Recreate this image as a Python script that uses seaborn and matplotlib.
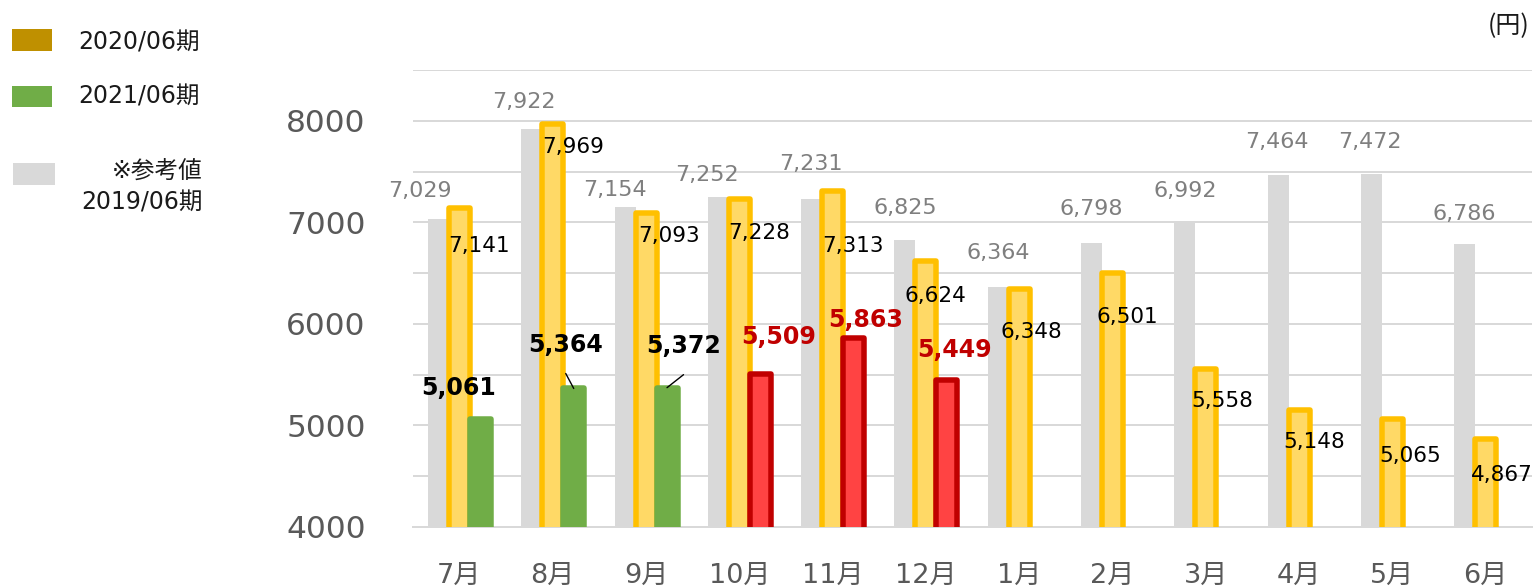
import numpy as np
import pandas as pd
import matplotlib
matplotlib.use("Agg")
import matplotlib.pyplot as plt
import seaborn as sns
from matplotlib.patches import Rectangle

# ---------------- data ----------------
months = ["7月", "8月", "9月", "10月", "11月", "12月", "1月", "2月", "3月", "4月", "5月", "6月"]
ref_2019 = [7029, 7922, 7154, 7252, 7231, 6825, 6364, 6798, 6992, 7464, 7472, 6786]
fy_2020 = [7141, 7969, 7093, 7228, 7313, 6624, 6348, 6501, 5558, 5148, 5065, 4867]
fy_2021_green = [5061, 5364, 5372]          # 7月-9月
fy_2021_red = [5509, 5863, 5449]            # 10月-12月
y_ticks = [4000, 4500, 5000, 5500, 6000, 6500, 7000, 7500, 8000, 8500]
y_tick_labels = ["4000", "", "5000", "", "6000", "", "7000", "", "8000", ""]
legend_labels = ["2020/06期", "2021/06期", "※参考値", "2019/06期"]
unit_label = "(円)"

# ---------------- styling / positions ----------------
W, H, DPI = 1537, 587, 100
PX = 72.0 / DPI  # points per pixel
C_GRAY = "#D9D9D9"
C_YEL_FILL, C_YEL_EDGE = "#FFD966", "#FFC000"
C_GREEN = "#70AD47"
C_RED_FILL, C_RED_EDGE = "#FF4343", "#C00000"
C_TICK = "#595959"
C_GRAYTXT = "#7F7F7F"
BAR_W = 0.225
OFF_GRAY, OFF_YEL, OFF_NEW = -0.225, 0.0, 0.225
EDGE_LW = 5.5 * PX

# label offsets in pixels (dx, dy up) relative to bar top centre
gray_lbl_off = [(-19, 28), (-8, 27), (-10, 17), (-11, 22), (-1, 35), (0, 32),
                (0, 34), (0, 34), (0, 32), (-1, 33), (-1, 32), (0, 30)]
yel_lbl_off = [(19.5, -37.5), (20.5, -23.5), (23.5, -23.5), (19.5, -33.5), (20.5, -55.5),
               (10, -35.5), (12.5, -43.5), (15, -43.5), (16, -32), (15.5, -32), (18, -37.5), (16, -36)]
green_lbl_off = [(-22, 31), (-8, 43), (16.5, 42)]
red_lbl_off = [(18.5, 36.5), (12, 18), (7.5, 29.5)]
leader_start = {1: (-8, 15), 2: (16.5, 13)}

sns.set_theme(style="white")
plt.rcParams["font.family"] = ["DejaVu Sans", "Noto Sans CJK JP"]
plt.rcParams["axes.unicode_minus"] = False

fig = plt.figure(figsize=(W / DPI, H / DPI), dpi=DPI)
ax = fig.add_axes([412.8 / W, 1 - 527 / H, (1532.3 - 412.8) / W, (527 - 70) / H])

idx = np.arange(len(months))
df_gray = pd.DataFrame({"pos": idx + OFF_GRAY, "val": ref_2019})
df_yel = pd.DataFrame({"pos": idx + OFF_YEL, "val": fy_2020})
df_green = pd.DataFrame({"pos": idx[:3] + OFF_NEW, "val": fy_2021_green})
df_red = pd.DataFrame({"pos": idx[3:6] + OFF_NEW, "val": fy_2021_red})

sns.barplot(data=df_gray, x="pos", y="val", native_scale=True, orient="x", width=BAR_W,
            color=C_GRAY, saturation=1, errorbar=None, linewidth=0, ax=ax)
n0 = len(ax.patches)
sns.barplot(data=df_yel, x="pos", y="val", native_scale=True, orient="x", width=BAR_W,
            color=C_YEL_FILL, saturation=1, errorbar=None, edgecolor=C_YEL_EDGE,
            linewidth=EDGE_LW, ax=ax)
sns.barplot(data=df_green, x="pos", y="val", native_scale=True, orient="x", width=BAR_W,
            color=C_GREEN, saturation=1, errorbar=None, edgecolor=C_GREEN,
            linewidth=EDGE_LW, ax=ax)
sns.barplot(data=df_red, x="pos", y="val", native_scale=True, orient="x", width=BAR_W,
            color=C_RED_FILL, saturation=1, errorbar=None, edgecolor=C_RED_EDGE,
            linewidth=EDGE_LW, ax=ax)
for p in ax.patches[n0:]:
    p.set_joinstyle("round")

ax.set_xlim(-0.5, len(months) - 0.5)
ax.set_ylim(4000, 8500)
ax.set_yticks(y_ticks)
ax.set_yticklabels(y_tick_labels)
ax.set_xticks(idx)
ax.set_xticklabels(months)
ax.set_xlabel("")
ax.set_ylabel("")
ax.tick_params(axis="y", length=0, pad=34, labelsize=22.5, labelcolor=C_TICK)
ax.tick_params(axis="x", length=0, pad=25.5, labelsize=19.5, labelcolor=C_TICK)
ax.grid(axis="y", color=C_GRAY, linewidth=2 * PX)
ax.grid(axis="x", visible=False)
ax.set_axisbelow(True)
for s in ["left", "right", "top"]:
    ax.spines[s].set_visible(False)
ax.spines["bottom"].set_color(C_GRAY)
ax.spines["bottom"].set_linewidth(2 * PX)
ax.spines["bottom"].set_zorder(0.5)

# ---------------- value labels ----------------
def lab(x, y, txt, off, **kw):
    ax.annotate(txt, xy=(x, y), xytext=(off[0] * PX, off[1] * PX), textcoords="offset points",
                ha="center", va="center", family="DejaVu Sans", **kw)

for i, v in enumerate(ref_2019):
    lab(i + OFF_GRAY, v, f"{v:,}", gray_lbl_off[i], fontsize=16, color=C_GRAYTXT)
for i, v in enumerate(fy_2020):
    lab(i + OFF_YEL, v, f"{v:,}", yel_lbl_off[i], fontsize=15.5, color="black", zorder=5)
for i, v in enumerate(fy_2021_green):
    lab(i + OFF_NEW, v, f"{v:,}", green_lbl_off[i], fontsize=17, color="black",
        fontweight="bold", zorder=5)
    if i in leader_start:
        sx, sy = leader_start[i]
        ax.annotate("", xy=(i + OFF_NEW, v), xytext=(sx * PX, sy * PX), textcoords="offset points",
                    arrowprops=dict(arrowstyle="-", color="black", lw=1.0, shrinkA=0, shrinkB=0))
for j, v in enumerate(fy_2021_red):
    lab(3 + j + OFF_NEW, v, f"{v:,}", red_lbl_off[j], fontsize=17, color=C_RED_EDGE,
        fontweight="bold", zorder=5)

# ---------------- legend (manual) ----------------
def swatch(x0, y0, x1, y1, c):
    fig.add_artist(Rectangle((x0 / W, 1 - y1 / H), (x1 - x0) / W, (y1 - y0) / H,
                             transform=fig.transFigure, facecolor=c, edgecolor="none"))

swatch(12, 29, 52, 51, "#BF9000")
swatch(12, 86, 52, 107, C_GREEN)
swatch(13, 163, 55, 185, C_GRAY)
lg_font = dict(fontsize=17, color="#1A1A1A", va="center", family=["DejaVu Sans", "Noto Sans CJK JP"])
fig.text(78 / W, 1 - 42 / H, legend_labels[0], ha="left", **lg_font)
fig.text(78 / W, 1 - 97 / H, legend_labels[1], ha="left", **lg_font)
fig.text(203 / W, 1 - 172 / H, legend_labels[2], ha="right", **lg_font)
fig.text(203 / W, 1 - 202 / H, legend_labels[3], ha="right", **lg_font)
fig.text(1530 / W, 1 - 26 / H, unit_label, ha="right", va="center", fontsize=18,
         color="#1A1A1A", family=["Noto Sans CJK JP", "DejaVu Sans"])

fig.savefig("out.png", dpi=DPI)
